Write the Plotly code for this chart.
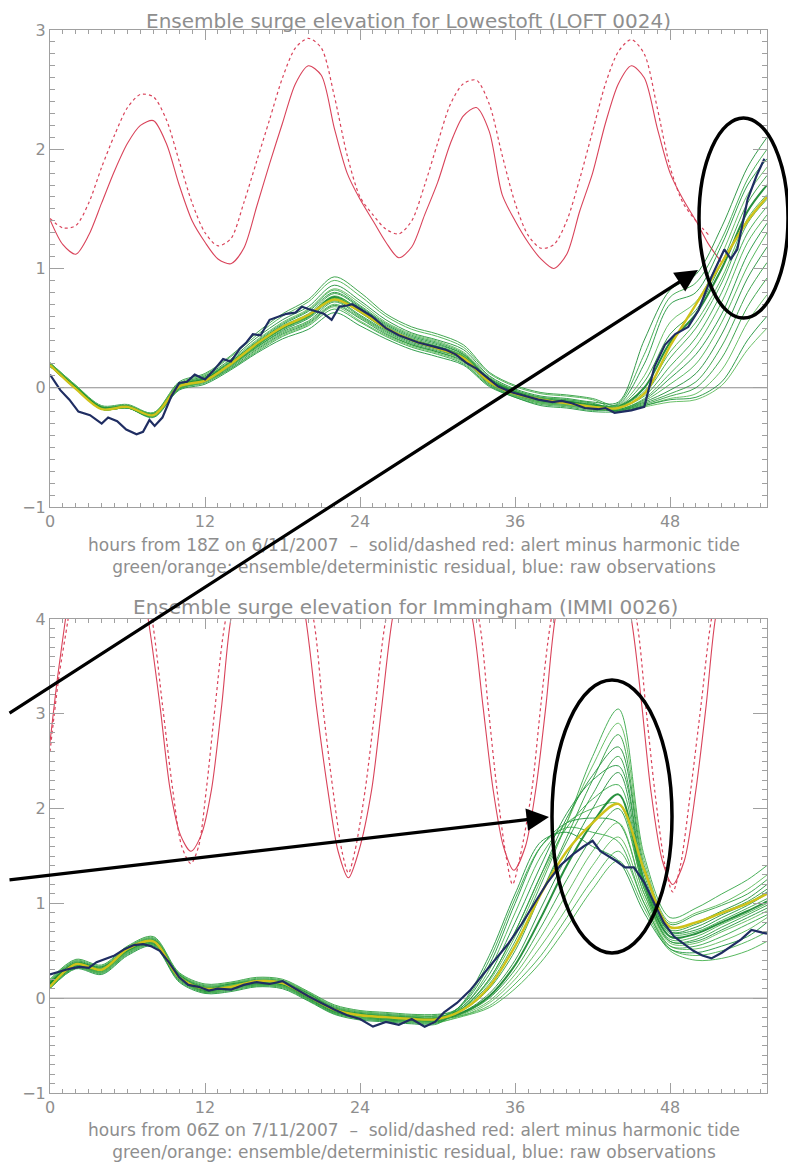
import plotly.graph_objects as go

# ---------------- data ----------------
GRID_H = [0, 2, 4, 6, 8, 10, 12, 14, 16, 18, 20, 22, 24, 26, 28, 30, 32, 34, 36, 38,
          40, 42, 44, 46, 48, 50, 52, 54, 55.5]
X_TICKS = [0, 12, 24, 36, 48]

# Lowestoft: alert minus harmonic tide (hourly from 0)
TOP_RED_SOLID = [1.41, 1.20, 1.12, 1.28, 1.55, 1.82, 2.05, 2.20, 2.24, 2.05,
                 1.70, 1.40, 1.22, 1.08, 1.04, 1.17, 1.52, 1.88, 2.22, 2.55,
                 2.70, 2.62, 2.18, 1.80, 1.58, 1.40, 1.22, 1.09, 1.18, 1.45,
                 1.72, 2.05, 2.28, 2.35, 2.15, 1.62, 1.40, 1.22, 1.08, 1.00,
                 1.12, 1.48, 1.80, 2.22, 2.55, 2.70, 2.60, 2.18, 1.80, 1.58,
                 1.40, 1.20, 1.05]
TOP_RED_DOT = [1.42, 1.34, 1.36, 1.55, 1.85, 2.12, 2.35, 2.46, 2.44, 2.25,
               1.90, 1.55, 1.30, 1.19, 1.25, 1.55, 1.90, 2.25, 2.60, 2.85,
               2.93, 2.85, 2.45, 1.95, 1.60, 1.45, 1.33, 1.29, 1.40, 1.70,
               2.05, 2.38, 2.55, 2.58, 2.38, 1.95, 1.55, 1.28, 1.17, 1.20,
               1.40, 1.75, 2.15, 2.55, 2.82, 2.92, 2.80, 2.35, 1.85, 1.55,
               1.40, 1.28]

TOP_DET = [0.19, -0.01, -0.18, -0.16, -0.23, 0.01, 0.06, 0.20, 0.37, 0.51, 0.61, 0.74,
           0.64, 0.50, 0.40, 0.33, 0.25, 0.05, -0.05, -0.10, -0.13, -0.16, -0.17, -0.05,
           0.35, 0.70, 1.05, 1.40, 1.60]

TOP_ENS = [
    [0.21, 0.02, -0.15, -0.14, -0.21, 0.05, 0.12, 0.27, 0.46, 0.62, 0.74, 0.93, 0.80, 0.62, 0.51, 0.45, 0.36, 0.13, 0.02, -0.04, -0.06, -0.09, -0.15, 0.05, 0.45, 0.65, 1.05, 1.55, 1.78],
    [0.21, 0.02, -0.16, -0.15, -0.21, 0.04, 0.11, 0.26, 0.44, 0.60, 0.72, 0.90, 0.77, 0.60, 0.49, 0.43, 0.34, 0.12, 0.01, -0.05, -0.07, -0.10, -0.18, -0.11, 0.03, 0.20, 0.55, 1.02, 1.30],
    [0.20, 0.01, -0.16, -0.15, -0.22, 0.03, 0.10, 0.24, 0.42, 0.57, 0.68, 0.86, 0.73, 0.57, 0.46, 0.40, 0.32, 0.10, -0.01, -0.07, -0.09, -0.12, -0.12, 0.40, 0.82, 0.95, 1.35, 1.85, 2.10],
    [0.20, 0.01, -0.16, -0.15, -0.22, 0.03, 0.09, 0.23, 0.40, 0.55, 0.66, 0.83, 0.71, 0.55, 0.45, 0.39, 0.30, 0.09, -0.02, -0.08, -0.10, -0.13, -0.20, -0.15, -0.09, -0.05, 0.15, 0.55, 0.78],
    [0.20, 0.01, -0.16, -0.15, -0.22, 0.02, 0.09, 0.22, 0.39, 0.54, 0.65, 0.82, 0.69, 0.54, 0.44, 0.38, 0.29, 0.08, -0.02, -0.08, -0.10, -0.13, -0.17, -0.05, 0.25, 0.50, 0.88, 1.38, 1.58],
    [0.19, 0.00, -0.17, -0.16, -0.22, 0.02, 0.08, 0.22, 0.38, 0.53, 0.64, 0.80, 0.68, 0.53, 0.43, 0.37, 0.28, 0.08, -0.03, -0.09, -0.11, -0.14, -0.14, 0.20, 0.70, 0.80, 1.20, 1.70, 1.92],
    [0.19, 0.00, -0.17, -0.16, -0.23, 0.02, 0.08, 0.21, 0.38, 0.52, 0.62, 0.79, 0.67, 0.52, 0.42, 0.36, 0.28, 0.07, -0.03, -0.09, -0.11, -0.14, -0.19, -0.13, -0.05, 0.05, 0.35, 0.80, 1.05],
    [0.19, 0.00, -0.17, -0.16, -0.23, 0.01, 0.07, 0.21, 0.37, 0.51, 0.61, 0.77, 0.65, 0.51, 0.41, 0.35, 0.27, 0.07, -0.04, -0.10, -0.12, -0.15, -0.18, -0.09, 0.12, 0.35, 0.72, 1.22, 1.45],
    [0.19, 0.00, -0.17, -0.16, -0.23, 0.01, 0.07, 0.20, 0.36, 0.50, 0.60, 0.76, 0.64, 0.50, 0.40, 0.34, 0.26, 0.06, -0.04, -0.10, -0.12, -0.15, -0.16, 0.00, 0.38, 0.62, 1.00, 1.48, 1.70],
    [0.19, 0.00, -0.17, -0.16, -0.23, 0.00, 0.06, 0.21, 0.35, 0.51, 0.59, 0.75, 0.66, 0.49, 0.41, 0.33, 0.27, 0.05, -0.05, -0.09, -0.13, -0.15, -0.20, -0.16, -0.12, -0.10, 0.02, 0.32, 0.50],
    [0.19, 0.00, -0.17, -0.16, -0.23, 0.01, 0.07, 0.19, 0.35, 0.49, 0.59, 0.75, 0.63, 0.49, 0.39, 0.33, 0.25, 0.05, -0.05, -0.11, -0.13, -0.16, -0.13, 0.28, 0.76, 0.88, 1.25, 1.75, 2.00],
    [0.19, 0.00, -0.17, -0.16, -0.23, 0.00, 0.06, 0.19, 0.34, 0.48, 0.58, 0.73, 0.61, 0.48, 0.38, 0.32, 0.24, 0.05, -0.05, -0.11, -0.13, -0.16, -0.18, -0.10, 0.08, 0.28, 0.62, 1.12, 1.38],
    [0.19, 0.00, -0.17, -0.16, -0.24, 0.00, 0.06, 0.18, 0.34, 0.47, 0.56, 0.72, 0.60, 0.47, 0.37, 0.31, 0.24, 0.04, -0.06, -0.12, -0.14, -0.17, -0.19, -0.14, -0.07, 0.00, 0.25, 0.68, 0.92],
    [0.18, -0.01, -0.18, -0.17, -0.24, 0.00, 0.05, 0.18, 0.33, 0.46, 0.55, 0.70, 0.59, 0.46, 0.36, 0.30, 0.23, 0.04, -0.06, -0.12, -0.14, -0.17, -0.16, -0.03, 0.30, 0.55, 0.92, 1.42, 1.62],
    [0.18, -0.01, -0.18, -0.17, -0.24, -0.01, 0.05, 0.17, 0.32, 0.45, 0.54, 0.69, 0.58, 0.45, 0.36, 0.30, 0.22, 0.03, -0.07, -0.13, -0.15, -0.18, -0.19, -0.12, -0.02, 0.12, 0.45, 0.92, 1.18],
    [0.18, -0.01, -0.18, -0.17, -0.24, -0.01, 0.05, 0.16, 0.31, 0.44, 0.53, 0.68, 0.56, 0.44, 0.35, 0.29, 0.21, 0.02, -0.07, -0.13, -0.15, -0.18, -0.15, 0.10, 0.55, 0.72, 1.12, 1.62, 1.85],
    [0.18, -0.01, -0.18, -0.17, -0.24, -0.01, 0.04, 0.16, 0.30, 0.43, 0.52, 0.66, 0.55, 0.43, 0.34, 0.28, 0.20, 0.02, -0.08, -0.14, -0.16, -0.19, -0.17, -0.07, 0.18, 0.42, 0.80, 1.30, 1.52],
    [0.18, -0.01, -0.18, -0.17, -0.25, -0.02, 0.03, 0.15, 0.29, 0.41, 0.49, 0.63, 0.52, 0.41, 0.32, 0.26, 0.19, 0.01, -0.08, -0.15, -0.17, -0.20, -0.20, -0.15, -0.10, -0.08, 0.05, 0.40, 0.60],
]

TOP_OBS_H = [0, 0.8, 1.5, 2.2, 3.1, 4.0, 4.5, 5.2, 5.9, 6.7, 7.2, 7.7, 8.1, 8.7, 9.4,
             10.0, 10.6, 11.2, 12.0, 12.7, 13.4, 14.0, 14.7, 15.2, 15.7, 16.3, 17.0, 17.6, 18.3, 19.0,
             19.5, 20.0, 20.6, 21.2, 21.8, 22.4, 23.0, 23.4, 24.0, 24.9, 26.0, 27.0, 28.5, 29.6, 30.6,
             31.4, 32.2, 33.0, 33.7, 34.7, 35.8, 36.8, 37.8, 38.9, 39.6, 40.4, 41.4, 42.4, 43.0, 43.7,
             44.4, 45.0, 46.0, 46.8, 47.6, 48.4, 49.4, 50.2, 51.2, 52.2, 52.7, 53.2, 54.0, 54.7, 55.3]
TOP_OBS_V = [0.11, -0.02, -0.10, -0.20, -0.23, -0.30, -0.25, -0.28, -0.35, -0.39, -0.37, -0.27, -0.32, -0.25, -0.07,
             0.04, 0.05, 0.11, 0.07, 0.15, 0.24, 0.22, 0.33, 0.38, 0.45, 0.44, 0.57, 0.59, 0.62, 0.63,
             0.68, 0.66, 0.64, 0.62, 0.57, 0.68, 0.69, 0.70, 0.66, 0.60, 0.50, 0.44, 0.38, 0.35, 0.32,
             0.28, 0.21, 0.16, 0.10, 0.01, -0.04, -0.07, -0.10, -0.12, -0.11, -0.13, -0.17, -0.18, -0.17, -0.21,
             -0.20, -0.19, -0.16, 0.18, 0.36, 0.45, 0.51, 0.65, 0.93, 1.16, 1.08, 1.16, 1.58, 1.78, 1.92]

# Immingham
BOT_RED_H = [0, 0.6, 1.2, 2, 4, 6, 7.6, 8.5, 9.3, 10.1, 10.9, 11.7, 12.5, 13.3, 14.0, 16, 18,
             19.8, 20.6, 21.5, 22.3, 23.1, 23.9, 24.9, 25.7, 26.5, 28.5, 30.5, 32.7, 33.5, 34.3,
             35.1, 35.9, 36.8, 37.6, 38.4, 39.1, 41, 43, 45.0, 45.8, 46.5, 47.4, 48.2, 49.1, 50.0,
             50.8, 51.5, 53, 55.5]
BOT_RED_V = [2.7, 3.4, 4.0, 4.8, 5.5, 5.2, 4.0, 3.1, 2.2, 1.72, 1.55, 1.72, 2.2, 3.1, 4.0, 5.2, 5.3,
             4.0, 3.1, 2.2, 1.55, 1.27, 1.55, 2.2, 3.1, 4.0, 5.3, 5.3, 4.0, 3.1, 2.2,
             1.6, 1.35, 1.6, 2.2, 3.1, 4.0, 5.2, 5.3, 4.0, 3.1, 2.2, 1.45, 1.2, 1.45, 2.2,
             3.1, 4.0, 5.0, 5.5]
BOT_RED_DOT_H = [0, 0.7, 1.4, 2.2, 4, 6, 7.9, 8.7, 9.5, 10.2, 10.9, 11.5, 12.1, 12.8, 13.6, 16, 18,
                 20.4, 21.1, 21.9, 22.6, 23.1, 23.6, 24.4, 25.2, 26.0, 28.5, 30.5, 33.2, 33.9, 34.6,
                 35.3, 35.8, 36.4, 37.3, 38.0, 38.8, 41, 43, 45.4, 46.1, 46.8, 47.6, 48.2, 48.8, 49.6,
                 50.4, 51.2, 53, 55.5]
BOT_RED_DOT_V = [2.6, 3.4, 4.0, 4.8, 5.6, 5.3, 4.0, 3.1, 2.2, 1.6, 1.42, 1.6, 2.2, 3.1, 4.0, 5.3, 5.4,
                 4.0, 3.1, 2.2, 1.55, 1.32, 1.55, 2.2, 3.1, 4.0, 5.4, 5.4, 4.0, 3.1, 2.2,
                 1.5, 1.2, 1.5, 2.2, 3.1, 4.0, 5.3, 5.4, 4.0, 3.1, 2.2, 1.4, 1.12, 1.4, 2.2,
                 3.1, 4.0, 5.1, 5.6]

BOT_DET = [0.12, 0.36, 0.30, 0.52, 0.60, 0.22, 0.10, 0.12, 0.18, 0.16, 0.02, -0.12, -0.18, -0.20,
           -0.22, -0.22, -0.12, 0.12, 0.55, 1.10, 1.55, 1.85, 2.05, 1.35, 0.75, 0.80, 0.90, 1.00, 1.10]

BOT_ENS = [
    [0.20, 0.41, 0.35, 0.55, 0.65, 0.27, 0.15, 0.17, 0.22, 0.20, 0.07, -0.07, -0.13, -0.15, -0.17, -0.17, -0.12, 0.10, 0.50, 1.10, 1.70, 2.30, 2.78, 1.40, 0.78, 0.88, 0.98, 1.10, 1.25],
    [0.19, 0.40, 0.34, 0.54, 0.64, 0.26, 0.14, 0.16, 0.21, 0.19, 0.06, -0.08, -0.14, -0.16, -0.18, -0.18, -0.08, 0.30, 0.90, 1.50, 1.85, 2.00, 2.05, 1.15, 0.62, 0.65, 0.78, 0.90, 1.00],
    [0.18, 0.39, 0.33, 0.53, 0.63, 0.25, 0.13, 0.15, 0.20, 0.18, 0.05, -0.09, -0.15, -0.17, -0.19, -0.19, -0.14, 0.05, 0.40, 0.95, 1.50, 2.00, 2.38, 1.25, 0.70, 0.75, 0.88, 1.00, 1.12],
    [0.17, 0.38, 0.32, 0.54, 0.62, 0.26, 0.12, 0.16, 0.19, 0.18, 0.06, -0.10, -0.14, -0.18, -0.19, -0.20, -0.18, -0.05, 0.20, 0.55, 0.95, 1.40, 1.70, 1.05, 0.55, 0.52, 0.60, 0.72, 0.85],
    [0.17, 0.38, 0.32, 0.52, 0.62, 0.24, 0.12, 0.14, 0.19, 0.17, 0.04, -0.10, -0.16, -0.18, -0.20, -0.20, -0.10, 0.15, 0.60, 1.20, 1.85, 2.55, 3.05, 1.50, 0.85, 0.95, 1.10, 1.25, 1.40],
    [0.16, 0.37, 0.33, 0.51, 0.61, 0.25, 0.11, 0.15, 0.18, 0.16, 0.05, -0.11, -0.16, -0.19, -0.20, -0.21, -0.06, 0.35, 1.00, 1.60, 1.85, 1.90, 1.85, 1.10, 0.60, 0.60, 0.72, 0.85, 0.95],
    [0.16, 0.37, 0.31, 0.51, 0.61, 0.23, 0.11, 0.13, 0.18, 0.16, 0.03, -0.11, -0.17, -0.19, -0.21, -0.21, -0.12, 0.12, 0.55, 1.10, 1.65, 2.15, 2.55, 1.30, 0.72, 0.78, 0.90, 1.02, 1.15],
    [0.15, 0.36, 0.31, 0.52, 0.60, 0.24, 0.10, 0.14, 0.17, 0.16, 0.03, -0.12, -0.17, -0.20, -0.21, -0.22, -0.18, -0.08, 0.15, 0.45, 0.85, 1.25, 1.55, 1.00, 0.52, 0.45, 0.50, 0.60, 0.70],
    [0.15, 0.36, 0.30, 0.50, 0.60, 0.22, 0.10, 0.12, 0.17, 0.15, 0.02, -0.12, -0.18, -0.20, -0.22, -0.22, -0.15, 0.02, 0.35, 0.85, 1.40, 1.85, 2.15, 1.20, 0.65, 0.68, 0.80, 0.92, 1.02],
    [0.14, 0.35, 0.30, 0.51, 0.59, 0.23, 0.09, 0.13, 0.16, 0.15, 0.01, -0.13, -0.18, -0.21, -0.22, -0.23, -0.10, 0.18, 0.65, 1.25, 1.85, 2.45, 2.90, 1.45, 0.80, 0.90, 1.00, 1.15, 1.30],
    [0.14, 0.35, 0.29, 0.49, 0.59, 0.21, 0.09, 0.11, 0.16, 0.14, 0.01, -0.13, -0.19, -0.21, -0.23, -0.23, -0.05, 0.40, 1.05, 1.60, 1.80, 1.75, 1.65, 1.00, 0.55, 0.55, 0.65, 0.78, 0.88],
    [0.13, 0.34, 0.29, 0.50, 0.58, 0.22, 0.08, 0.12, 0.15, 0.14, 0.00, -0.14, -0.19, -0.22, -0.23, -0.24, -0.08, 0.25, 0.80, 1.40, 1.95, 2.30, 2.45, 1.25, 0.70, 0.72, 0.85, 0.98, 1.10],
    [0.13, 0.34, 0.28, 0.48, 0.58, 0.20, 0.08, 0.10, 0.15, 0.13, 0.00, -0.14, -0.20, -0.22, -0.24, -0.24, -0.16, 0.00, 0.30, 0.75, 1.25, 1.70, 2.00, 1.15, 0.60, 0.62, 0.75, 0.88, 0.98],
    [0.12, 0.33, 0.28, 0.49, 0.57, 0.21, 0.07, 0.11, 0.14, 0.13, -0.01, -0.15, -0.20, -0.23, -0.24, -0.25, -0.19, -0.10, 0.10, 0.38, 0.75, 1.15, 1.45, 0.95, 0.50, 0.40, 0.42, 0.50, 0.60],
    [0.12, 0.33, 0.27, 0.47, 0.57, 0.19, 0.07, 0.09, 0.14, 0.12, -0.01, -0.15, -0.21, -0.23, -0.25, -0.25, -0.10, 0.20, 0.70, 1.30, 1.90, 2.35, 2.65, 1.35, 0.75, 0.80, 0.92, 1.05, 1.20],
    [0.11, 0.32, 0.27, 0.48, 0.56, 0.20, 0.06, 0.10, 0.13, 0.12, -0.02, -0.16, -0.21, -0.24, -0.25, -0.26, -0.17, -0.03, 0.25, 0.65, 1.10, 1.55, 1.85, 1.10, 0.58, 0.58, 0.70, 0.82, 0.92],
    [0.11, 0.32, 0.26, 0.46, 0.56, 0.18, 0.06, 0.08, 0.13, 0.11, -0.02, -0.16, -0.22, -0.24, -0.26, -0.26, -0.10, 0.20, 0.70, 1.30, 1.80, 2.10, 2.25, 1.20, 0.68, 0.70, 0.82, 0.95, 1.05],
    [0.10, 0.31, 0.25, 0.45, 0.55, 0.17, 0.05, 0.07, 0.12, 0.10, -0.03, -0.17, -0.23, -0.25, -0.27, -0.27, -0.04, 0.45, 1.10, 1.65, 1.75, 1.60, 1.45, 0.90, 0.52, 0.48, 0.55, 0.65, 0.80],
]

BOT_OBS_H = [0, 0.7, 1.5, 2.3, 3.0, 3.6, 4.4, 5.0, 5.8, 6.5, 7.2, 7.8, 8.5, 9.2, 10.0, 10.7, 11.5, 12.3,
             13.0, 14.0, 15.0, 16.0, 17.0, 18.0, 19.0, 20.0, 21.0, 22.0, 23.0, 24.0, 25.0, 26.0, 27.0,
             28.0, 29.0, 29.8, 30.5, 31.5, 32.5, 33.5, 34.5, 35.5, 36.5, 37.5, 38.5, 39.5, 40.5, 41.3,
             42.0, 42.6, 43.2, 43.8, 44.5, 45.2, 46.0, 46.8, 47.5, 48.3, 49.0, 49.8, 50.5, 51.2, 52.0,
             52.8, 53.5, 54.3, 55.0, 55.5]
BOT_OBS_V = [0.25, 0.28, 0.31, 0.33, 0.32, 0.38, 0.42, 0.45, 0.52, 0.56, 0.57, 0.55, 0.50, 0.38, 0.22, 0.14, 0.12, 0.08,
             0.10, 0.09, 0.14, 0.17, 0.15, 0.18, 0.10, 0.02, -0.05, -0.12, -0.18, -0.22, -0.30, -0.25, -0.28,
             -0.22, -0.30, -0.25, -0.15, -0.05, 0.08, 0.25, 0.42, 0.58, 0.78, 1.00, 1.22, 1.40, 1.52, 1.60,
             1.66, 1.55, 1.50, 1.45, 1.38, 1.38, 1.22, 1.00, 0.80, 0.65, 0.58, 0.50, 0.45, 0.42, 0.48,
             0.55, 0.62, 0.72, 0.70, 0.68]

TITLES = ["Ensemble surge elevation for Lowestoft (LOFT 0024)",
          "Ensemble surge elevation for Immingham (IMMI 0026)"]
XLAB1 = ["hours from 18Z on 6/11/2007  \u2013  solid/dashed red: alert minus harmonic tide",
         "hours from 06Z on 7/11/2007  \u2013  solid/dashed red: alert minus harmonic tide"]
XLAB2 = "green/orange: ensemble/deterministic residual, blue: raw observations"

# ---------------- layout helpers (page pixels) ----------------
PAGE_OFF = 8                      # default body margin of the page
L, R, T, B = 50, 767, 30, 1093    # plot box in page pixels
FW, FH = 796 - PAGE_OFF, 1164 - PAGE_OFF
MARGIN = dict(l=L - PAGE_OFF, r=FW - (R - PAGE_OFF), t=T - PAGE_OFF, b=FH - (B - PAGE_OFF))


def paper(xp, yp):
    return (xp - L) / (R - L), (B - yp) / (B - T)


TOP_DOM = [paper(0, 507)[1], 1.0]
BOT_DOM = [0.0, paper(0, 619)[1]]

RED = "#d9435a"
GREENS = ["#2f9e3f", "#47b24f", "#22903a", "#5cbb5a", "#37a848", "#1f963c"]
DET = "#cfc21a"
OBS = "#1f2d62"
GREY = "#8e8e8e"
AXC = "#a0a0a0"
FONT = "DejaVu Sans"

fig = go.Figure()


def add_panel(xa, ya, red_h, red_v, dot_h, dot_v, ens, det, obs_h, obs_v):
    fig.add_trace(go.Scatter(x=dot_h, y=dot_v, mode="lines", xaxis=xa, yaxis=ya,
                             line=dict(color=RED, width=1.2, dash="dot", shape="spline", smoothing=0.8),
                             hoverinfo="skip"))
    fig.add_trace(go.Scatter(x=red_h, y=red_v, mode="lines", xaxis=xa, yaxis=ya,
                             line=dict(color=RED, width=1.1, shape="spline", smoothing=0.8),
                             hoverinfo="skip"))
    for i, m in enumerate(ens):
        w = 2.0 if i == 8 else 1.0
        c = "#11852a" if i == 8 else GREENS[i % len(GREENS)]
        fig.add_trace(go.Scatter(x=GRID_H, y=m, mode="lines", xaxis=xa, yaxis=ya,
                                 line=dict(color=c, width=w, shape="spline", smoothing=0.9),
                                 opacity=0.9, hoverinfo="skip"))
    fig.add_trace(go.Scatter(x=GRID_H, y=det, mode="lines", xaxis=xa, yaxis=ya,
                             line=dict(color=DET, width=2.4, shape="spline", smoothing=0.9),
                             hoverinfo="skip"))
    fig.add_trace(go.Scatter(x=obs_h, y=obs_v, mode="lines", xaxis=xa, yaxis=ya,
                             line=dict(color=OBS, width=2.2), hoverinfo="skip"))


add_panel("x", "y", list(range(len(TOP_RED_SOLID))), TOP_RED_SOLID,
          list(range(len(TOP_RED_DOT))), TOP_RED_DOT, TOP_ENS, TOP_DET, TOP_OBS_H, TOP_OBS_V)
add_panel("x2", "y2", BOT_RED_H, BOT_RED_V, BOT_RED_DOT_H, BOT_RED_DOT_V,
          BOT_ENS, BOT_DET, BOT_OBS_H, BOT_OBS_V)

axis_common = dict(showgrid=False, zeroline=False, showline=True, linecolor=AXC,
                   linewidth=1, mirror="ticks", ticks="inside", tickcolor=AXC,
                   tickfont=dict(family=FONT, size=16, color=GREY))

xcommon = dict(axis_common, range=[0, 55.5], tickvals=X_TICKS, ticklen=10,
               minor=dict(dtick=1, ticklen=4, tickcolor=AXC, ticks="inside"))

fig.update_layout(
    width=FW, height=FH, margin=MARGIN,
    paper_bgcolor="white", plot_bgcolor="white", showlegend=False,
    xaxis=dict(xcommon, anchor="y"),
    yaxis=dict(axis_common, domain=TOP_DOM, range=[-1, 3], dtick=1, ticklen=14,
               minor=dict(dtick=0.1, ticklen=5, tickcolor=AXC, ticks="inside"), anchor="x"),
    xaxis2=dict(xcommon, anchor="y2"),
    yaxis2=dict(axis_common, domain=BOT_DOM, range=[-1, 4], dtick=1, ticklen=14,
                minor=dict(dtick=0.1, ticklen=5, tickcolor=AXC, ticks="inside"), anchor="x2"),
)

# zero reference lines
for xr, yr in (("x domain", "y"), ("x2 domain", "y2")):
    fig.add_shape(type="line", xref=xr, yref=yr, x0=0, x1=1, y0=0, y1=0,
                  line=dict(color="#8c8c8c", width=1), layer="below")


# texts
def text(xp, yp, s, size, yanchor="middle"):
    x, y = paper(xp, yp)
    fig.add_annotation(x=x, y=y, xref="paper", yref="paper", text=s, showarrow=False,
                       font=dict(family=FONT, size=size, color=GREY),
                       xanchor="center", yanchor=yanchor, borderpad=0)


text(408, PAGE_OFF, TITLES[0], 20, yanchor="top")
text(414, 556, XLAB1[0] + "<br>" + XLAB2, 17)
text(405, 607, TITLES[1], 20)
text(414, 1163, XLAB1[1] + "<br>" + XLAB2, 17, yanchor="bottom")

# highlight ellipses
for (x0, y0, x1, y1) in ((699, 118, 788, 318), (552, 680, 672, 953)):
    a0, b0 = paper(x0, y1)
    a1, b1 = paper(x1, y0)
    fig.add_shape(type="circle", xref="paper", yref="paper", x0=a0, y0=b0, x1=a1, y1=b1,
                  line=dict(color="black", width=3.5))

# arrows
for (tx, ty, hx, hy) in ((0, 714, 698, 270), (0, 880, 549, 817)):
    x, y = paper(hx, hy)
    fig.add_annotation(x=x, y=y, xref="paper", yref="paper", ax=tx - hx, ay=ty - hy,
                       text="", showarrow=True, arrowhead=2, arrowsize=1.4, arrowwidth=3.2,
                       arrowcolor="black", standoff=0)

fig.write_html("out.html")
